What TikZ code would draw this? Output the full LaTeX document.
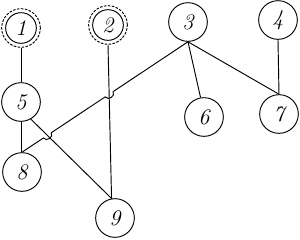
\documentclass[tikz,border=0pt]{standalone}
\usepackage{tikz}
\usetikzlibrary{calc, intersections}

\begin{document}
\begin{tikzpicture}[x=0.03cm, y=-0.03cm, line width=0.8pt,
    vertex/.style={circle, draw, inner sep=0pt, minimum size=1.16cm,
        font=\fontsize{19}{21}\selectfont\itshape},
    source/.style={vertex, dashed, dash pattern=on 2.2pt off 1.2pt,
        path picture={\draw[solid] (path picture bounding box.center) circle (0.46cm);}}]

\useasboundingbox (0,0) rectangle (300,239);

% Vertices
\node[source] (n1) at (21,28) {1};
\node[source] (n2) at (108,25) {2};
\node[vertex] (n3) at (188,22) {3};
\node[vertex] (n4) at (278,20) {4};
\node[vertex] (n5) at (21,102) {5};
\node[vertex] (n6) at (204,117) {6};
\node[vertex] (n7) at (279,114) {7};
\node[vertex] (n8) at (22,172) {8};
\node[vertex] (n9) at (115,218) {9};

% Plain edges
\draw (n1.south) -- (n5.north);
\draw (n5.south) -- (n5.south |- n8.north);
\draw (n3.south) -- (n6.100);
\draw (n3.south) -- (n7.north);
\draw (n4.south) -- (n7.north);
\draw[name path=l29] (n2.south) -- (n9.100);
\draw[name path=l59] (n5.-60) -- (n9.100);

% Edge 3--8 hops over the crossings
\path[name path=l38] (n3.south) -- (n8.north);
\path[name intersections={of=l38 and l29, by=x1}];
\path[name intersections={of=l38 and l59, by=x2}];
\draw (n3.south) -- ($(x1)!4pt!(n3.south)$)
    to[bend left=90, looseness=1.4] ($(x1)!4pt!(n8.north)$)
    -- ($(x2)!4pt!(n3.south)$)
    to[bend left=90, looseness=1.4] ($(x2)!4pt!(n8.north)$)
    -- (n8.north);

\end{tikzpicture}
\end{document}
